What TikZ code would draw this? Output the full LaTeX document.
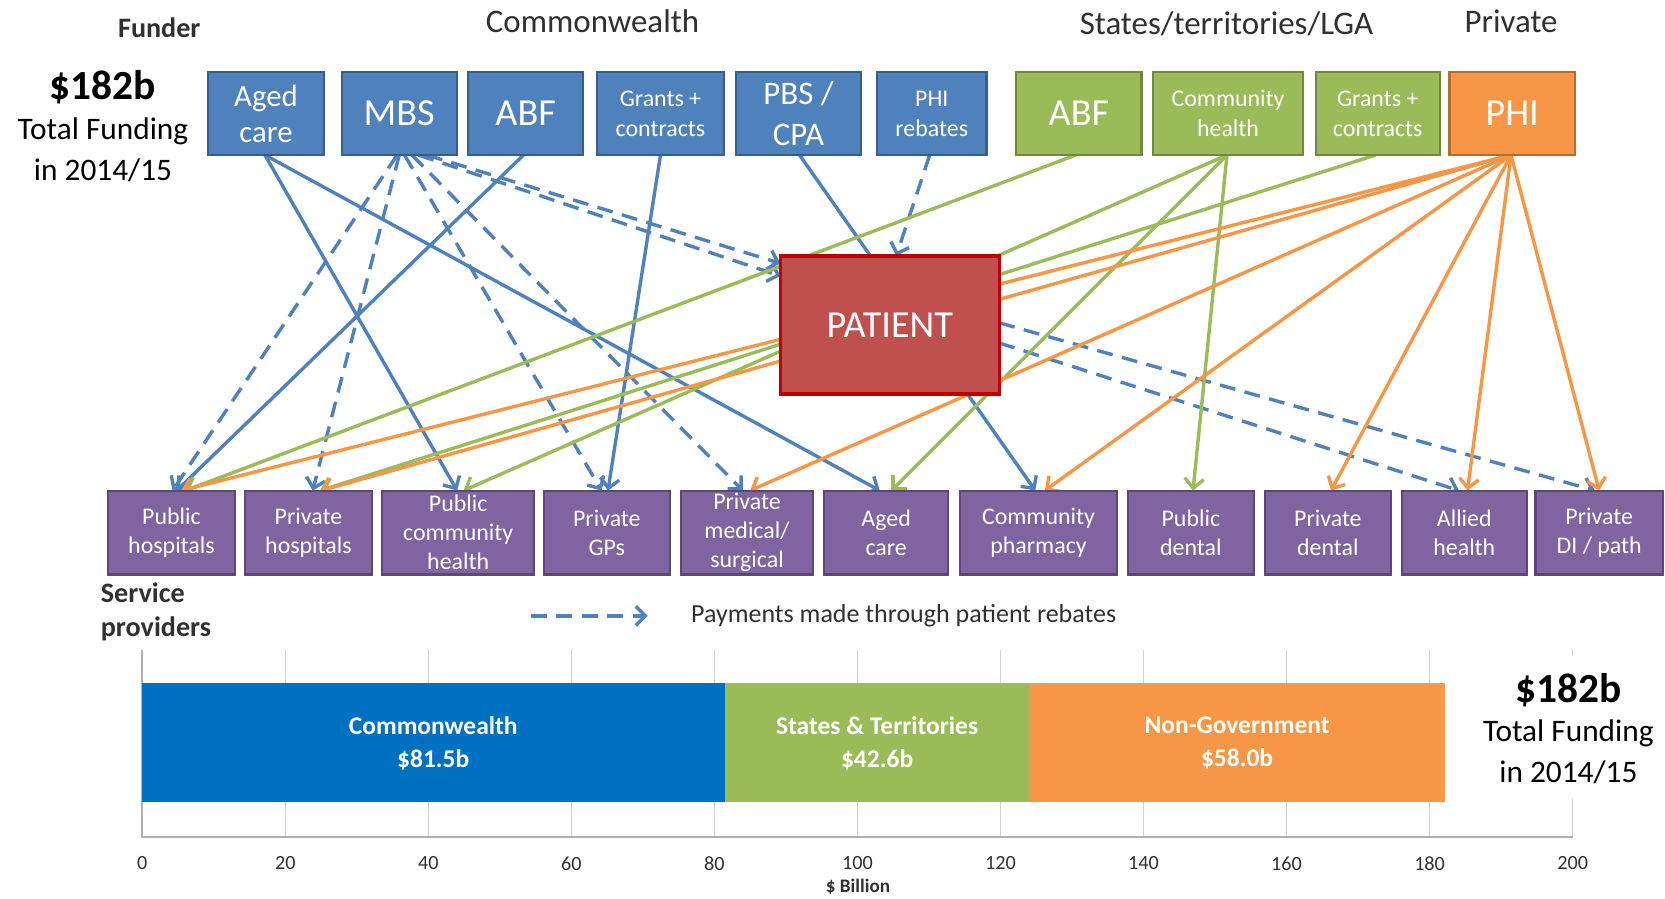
\documentclass[tikz,border=0pt]{standalone}
\usepackage{fontspec}
\setmainfont{Carlito}
\usetikzlibrary{arrows.meta}
\pgfdeclarelayer{links}
\pgfsetlayers{links,main}

\definecolor{cwBlue}{HTML}{4F81BD}
\definecolor{cwBlueD}{HTML}{385D8A}
\definecolor{stGreen}{HTML}{9BBB59}
\definecolor{stGreenD}{HTML}{71893F}
\definecolor{pvOrange}{HTML}{F79646}
\definecolor{pvOrangeD}{HTML}{B66D31}
\definecolor{spPurple}{HTML}{8064A2}
\definecolor{spPurpleD}{HTML}{5C4776}
\definecolor{ptRed}{HTML}{C0504D}
\definecolor{ptRedD}{HTML}{C00000}
\definecolor{barBlue}{HTML}{0070C0}
\definecolor{headGray}{HTML}{303030}
\definecolor{gridGray}{HTML}{D0D0D0}
\definecolor{axisGray}{HTML}{B0B0B0}

\newcommand\fs[2]{\fontsize{#1}{#2}\selectfont}

\tikzset{
  every node/.style={inner sep=0pt, outer sep=0pt},
  fundbox/.style={rectangle, line width=2pt, text=white, align=center, minimum height=78pt},
  cwbox/.style={fundbox, fill=cwBlue, draw=cwBlueD},
  stbox/.style={fundbox, fill=stGreen, draw=stGreenD},
  pvbox/.style={fundbox, fill=pvOrange, draw=pvOrangeD},
  spbox/.style={rectangle, line width=2pt, fill=spPurple, draw=spPurpleD, text=white,
    align=center, minimum height=79pt, font=\fs{22.5}{27.5}},
  bigtxt/.style={font=\fs{36}{40}},
  midtxt/.style={font=\fs{29}{34}},
  smalltxt/.style={font=\fs{22.5}{28}},
  head/.style={text=headGray, font=\fs{31}{36}},
  boldhead/.style={text=headGray, font=\fs{26.5}{32}\bfseries, align=left},
  totalbig/.style={text=black, font=\fs{39}{44}\bfseries},
  totaltxt/.style={text=black, font=\fs{29.5}{34}},
  flow/.style={line width=3.2pt, -{Straight Barb[length=9pt,width=18pt]}},
  cwflow/.style={flow, draw=cwBlue},
  rebate/.style={cwflow, dash pattern=on 15pt off 9pt},
  stflow/.style={flow, draw=stGreen},
  pvflow/.style={flow, draw=pvOrange},
  gridline/.style={draw=gridGray, line width=1.2pt},
  axisline/.style={draw=axisGray, line width=1.5pt},
  barlabel/.style={text=white, align=center, font=\fs{24}{31}\bfseries},
  ticklabel/.style={text=headGray, font=\fs{19}{22}},
}

\begin{document}
\begin{tikzpicture}[x=1pt,y=-1pt]
\useasboundingbox (0,0) rectangle (1568,846);

% ---- column headings ----
\node[boldhead] (hdFunder) at (150,26) {Funder};
\node[head] (hdCw) at (558,20) {Commonwealth};
\node[head] (hdSt) at (1155,22) {States/territories/LGA};
\node[head] (hdPv) at (1423,20) {Private};

% ---- total funding, left ----
\node[totalbig] (totL1) at (97,82) {\$182b};
\node[totaltxt] (totL2) at (97,124) {Total Funding};
\node[totaltxt] (totL3) at (97,160) {in 2014/15};

% ---- funders ----
\node[cwbox, minimum width=109pt, midtxt] (fAged) at (250.5,107) {Aged\\care};
\node[cwbox, minimum width=108pt, bigtxt] (fMBS) at (376,107) {MBS};
\node[cwbox, minimum width=108pt, bigtxt] (fABF) at (495,107) {ABF};
\node[cwbox, minimum width=120pt, smalltxt] (fGrants) at (622,107) {Grants +\\contracts};
\node[cwbox, minimum width=118pt, font=\fs{31}{38}] (fPBS) at (752,107) {PBS /\\CPA};
\node[cwbox, minimum width=103pt, smalltxt] (fPHIr) at (877.5,107) {PHI\\rebates};
\node[stbox, minimum width=118pt, bigtxt] (sABF) at (1016,107) {ABF};
\node[stbox, minimum width=141pt, smalltxt] (sComm) at (1156.5,107) {Community\\health};
\node[stbox, minimum width=117pt, smalltxt] (sGrants) at (1297.5,107) {Grants +\\contracts};
\node[pvbox, minimum width=118pt, bigtxt] (pPHI) at (1424,107) {PHI};

% ---- service providers ----
\node[spbox, minimum width=119pt] (bPubHosp) at (161.5,501.5) {Public\\hospitals};
\node[spbox, minimum width=119pt] (bPrivHosp) at (290.5,501.5) {Private\\hospitals};
\node[spbox, minimum width=143pt] (bPubComm) at (431.5,501.5) {Public\\community\\health};
\node[spbox, minimum width=119pt] (bGPs) at (571.5,501.5) {Private\\GPs};
\node[spbox, minimum width=125pt] (bMedSurg) at (703.5,501.5) {Private\\medical/\\surgical};
\node[spbox, minimum width=117pt] (bAged) at (834.5,501.5) {Aged\\care};
\node[spbox, minimum width=148pt] (bPharm) at (978,501.5) {Community\\pharmacy};
\node[spbox, minimum width=119pt] (bPubDent) at (1121.5,501.5) {Public\\dental};
\node[spbox, minimum width=119pt] (bPrivDent) at (1250.5,501.5) {Private\\dental};
\node[spbox, minimum width=118pt] (bAllied) at (1379,501.5) {Allied\\health};
\node[spbox, minimum width=120pt] (bDI) at (1506,501.5) {Private\\DI / path};

% ---- patient ----
\node[rectangle, fill=ptRed, draw=ptRedD, line width=3pt, minimum width=206pt,
      minimum height=130pt, text=white, font=\fs{36}{40}] (patient) at (838,306) {PATIENT};

% ---- funding flows ----
\begin{pgfonlayer}{links}
  % Commonwealth, direct
  \draw[cwflow] ([xshift=-1pt]fAged.south) -- ([xshift=-1pt]bPubComm.north);
  \draw[cwflow] ([xshift=-1pt]fAged.south) -- ([xshift=-6pt]bAged.north);
  \draw[cwflow] ([xshift=-2pt]fABF.south) -- ([xshift=5pt]bPubHosp.north);
  \draw[cwflow] (fGrants.south) -- ([xshift=1pt]bGPs.north);
  \draw[cwflow] ([xshift=1pt]fPBS.south) -- ([xshift=-3pt]bPharm.north);
  % Commonwealth, through patient rebates
  \draw[rebate] ([xshift=-2pt]fMBS.south) -- ([xshift=1pt]bPubHosp.north);
  \draw[rebate] ([xshift=0pt]fMBS.south) -- ([xshift=4pt]bPrivHosp.north);
  \draw[rebate] ([xshift=5pt]fMBS.south) -- ([xshift=-5pt]bGPs.north);
  \draw[rebate] ([xshift=12pt]fMBS.south) -- ([xshift=-4pt]bMedSurg.north);
  \draw[rebate] ([xshift=26pt]fMBS.south) -- ([yshift=-7pt]patient.north west);
  \draw[rebate] ([xshift=18pt]fMBS.south) -- ([yshift=-19pt]patient.north west);
  \draw[rebate] ([xshift=-2pt]fPHIr.south) -- ([xshift=6pt]patient.north);
  \draw[rebate] ([yshift=2pt]patient.east) -- ([xshift=-4pt]bDI.north);
  \draw[rebate] ([yshift=-17pt]patient.east) -- ([xshift=-5pt]bAllied.north);
  % States / territories / LGA
  \draw[stflow] ([xshift=-3pt]sABF.south) -- ([xshift=13pt]bPubHosp.north);
  \draw[stflow] ([xshift=-1pt]sComm.south) -- ([xshift=5pt]bPubComm.north);
  \draw[stflow] ([xshift=-1pt]sComm.south) -- ([xshift=5pt]bAged.north);
  \draw[stflow] ([xshift=-1pt]sComm.south) -- ([xshift=2pt]bPubDent.north);
  \draw[stflow] ([xshift=-2pt]sGrants.south) -- ([xshift=11pt]bPrivHosp.north);
  % Private health insurance
  \draw[pvflow] ([xshift=-1pt]pPHI.south) -- ([xshift=9pt]bPubHosp.north);
  \draw[pvflow] ([xshift=-1pt]pPHI.south) -- ([xshift=12pt]bPrivHosp.north);
  \draw[pvflow] ([xshift=-1pt]pPHI.south) -- ([xshift=3pt]bMedSurg.north);
  \draw[pvflow] ([xshift=-1pt]pPHI.south) -- ([xshift=6pt]bPharm.north);
  \draw[pvflow] ([xshift=-1pt]pPHI.south) -- ([xshift=3pt]bPrivDent.north);
  \draw[pvflow] ([xshift=-1pt]pPHI.south) -- ([xshift=3pt]bAllied.north);
  \draw[pvflow] ([xshift=-1pt]pPHI.south) -- (bDI.north);
\end{pgfonlayer}

% ---- row label and legend ----
\node[boldhead, anchor=west] (spHead) at (95,576) {Service\\providers};
\coordinate (legA) at (500,580);
\coordinate (legB) at (610,580);
\draw[rebate] (legA) -- (legB);
\node[text=headGray, font=\fs{24.5}{28}] (legTxt) at (851,580) {Payments made through patient rebates};

% ---- funding totals bar ----
\foreach \v in {20,40,...,180}
  \draw[gridline] ({134+6.735*\v},612) -- ({134+6.735*\v},788);
\draw[gridline] (1481,612) -- (1481,618);
\draw[gridline] (1481,752) -- (1481,788);
\draw[axisline] (134,612) -- (134,788) -- (1481,788);
\fill[barBlue] (134,643) rectangle (683,755);
\fill[stGreen] (683,643) rectangle (970,755);
\fill[pvOrange] (970,643) rectangle (1361,755);
\node[barlabel] (lblCw) at (408,700) {Commonwealth\\\$81.5b};
\node[barlabel] (lblSt) at (826,700) {States \& Territories\\\$42.6b};
\node[barlabel] (lblNg) at (1165,700) {Non-Government\\\$58.0b};
\foreach \v in {0,20,...,200}
  \node[ticklabel] (tk\v) at ({134+6.735*\v},813) {\v};
\node[text=headGray, font=\fs{18}{22}\bfseries] (axTitle) at (808,835) {\$ Billion};

% ---- total funding, right ----
\node[totalbig] (totR1) at (1477,650) {\$182b};
\node[totaltxt] (totR2) at (1477,691) {Total Funding};
\node[totaltxt] (totR3) at (1477,727) {in 2014/15};
\end{tikzpicture}
\end{document}
